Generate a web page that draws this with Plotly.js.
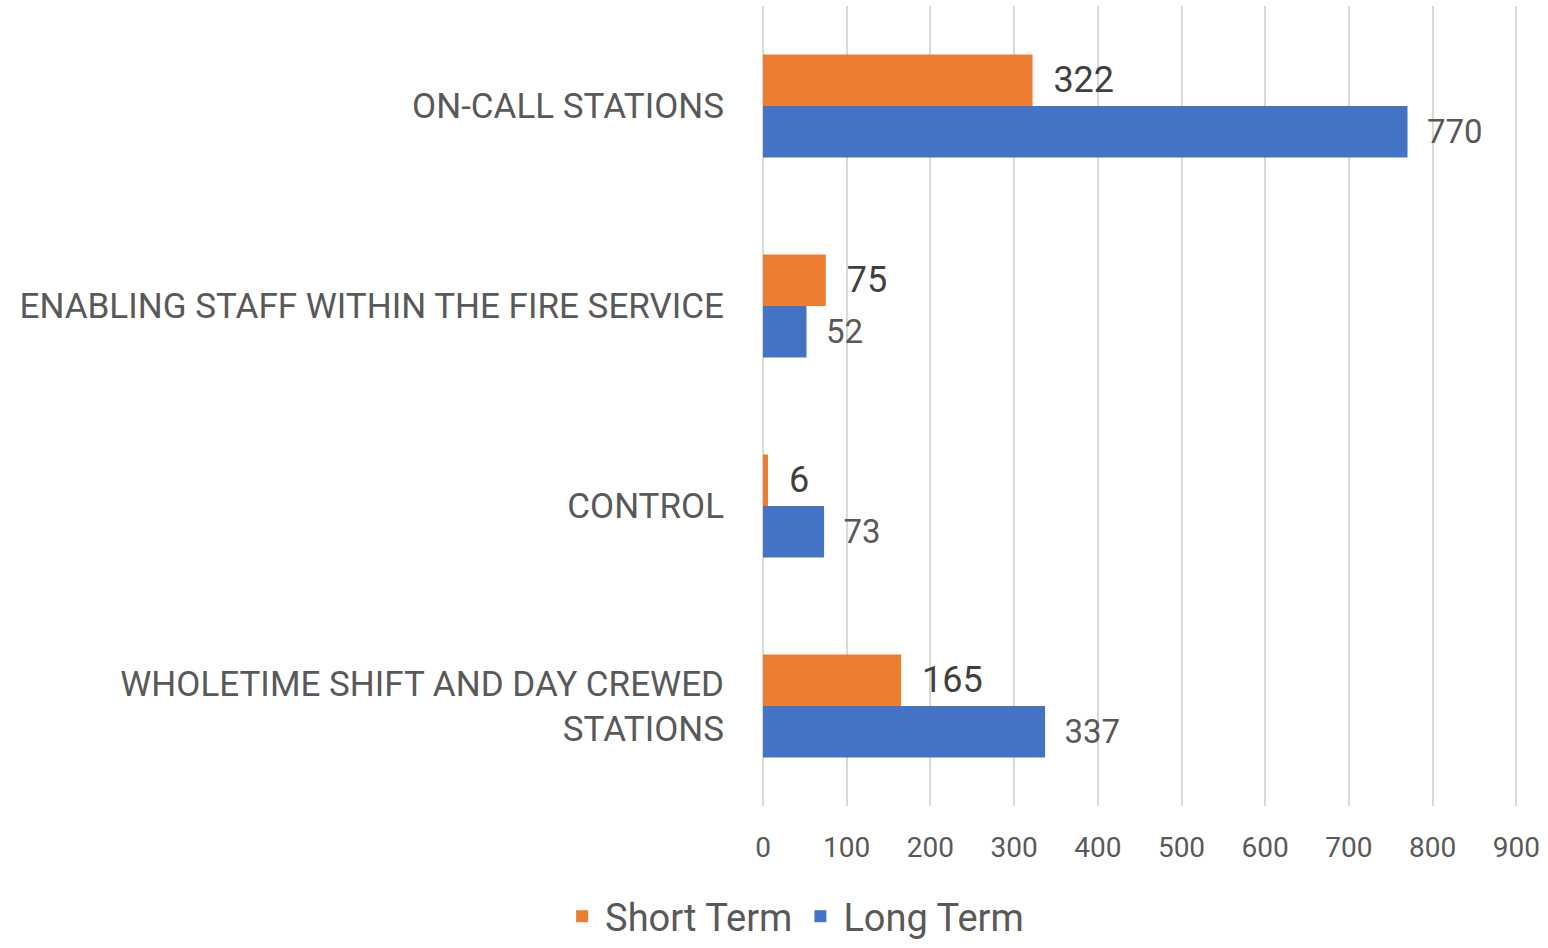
<!DOCTYPE html>
<html>
<head>
<meta charset="utf-8">
<script src="https://cdn.plot.ly/plotly-3.0.1.min.js"></script>
<style>
  html, body { margin: 0; padding: 0; background: #fff; }
  #chart { width: 1548px; height: 948px; }
</style>
</head>
<body>
<div id="chart"></div>
<script>
// categories bottom to top, as plotly draws them
var categories = [
  "WHOLETIME SHIFT AND DAY CREWED<br>STATIONS",
  "CONTROL",
  "ENABLING STAFF WITHIN THE FIRE SERVICE",
  "ON-CALL STATIONS"
];
var shortTerm = [165, 6, 75, 322];
var longTerm = [337, 73, 52, 770];
var xTicks = [0, 100, 200, 300, 400, 500, 600, 700, 800, 900];

var font = "Roboto, Arial, sans-serif";

// long term goes first so it sits below the orange bar
var longTrace = {
  name: "Long Term",
  type: "bar",
  orientation: "h",
  y: categories,
  x: longTerm,
  marker: { color: "#4472C4" },
  text: longTerm,
  texttemplate: "  %{x}",
  textposition: "outside",
  cliponaxis: false,
  textfont: { family: font, size: 33, color: "#595959" },
  legendrank: 2,
  hoverinfo: "x+name"
};

var shortTrace = {
  name: "Short Term",
  type: "bar",
  orientation: "h",
  y: categories,
  x: shortTerm,
  marker: { color: "#ED7D31" },
  text: shortTerm,
  texttemplate: "  %{x}",
  textposition: "outside",
  cliponaxis: false,
  textfont: { family: font, size: 36, color: "#404040" },
  legendrank: 1,
  hoverinfo: "x+name"
};

var layout = {
  width: 1548,
  height: 948,
  margin: { l: 763, r: 30, t: 6, b: 142 },
  paper_bgcolor: "#fff",
  plot_bgcolor: "#fff",
  font: { family: font, color: "#595959", size: 30 },
  barmode: "group",
  bargap: 0.485,
  bargroupgap: 0,
  xaxis: {
    range: [0, 902],
    tickvals: xTicks,
    showgrid: true,
    gridcolor: "#d9d9d9",
    gridwidth: 2,
    zeroline: true,
    zerolinecolor: "#d9d9d9",
    zerolinewidth: 2,
    showline: false,
    ticks: "outside",
    ticklen: 0,
    tickfont: { size: 28, color: "#595959" },
    ticklabelstandoff: 16,
    fixedrange: true
  },
  yaxis: {
    type: "category",
    showgrid: false,
    zeroline: false,
    showline: false,
    ticks: "",
    tickfont: { size: 35, color: "#595959" },
    ticklabelstandoff: 38,
    fixedrange: true
  },
  showlegend: true,
  legend: {
    orientation: "h",
    xref: "container",
    yref: "container",
    x: 0.513,
    xanchor: "center",
    y: 0,
    yanchor: "bottom",
    font: { size: 38, color: "#595959" },
    itemwidth: 36
  }
};

Plotly.newPlot("chart", [longTrace, shortTrace], layout, { displayModeBar: false, staticPlot: true });
</script>
</body>
</html>
